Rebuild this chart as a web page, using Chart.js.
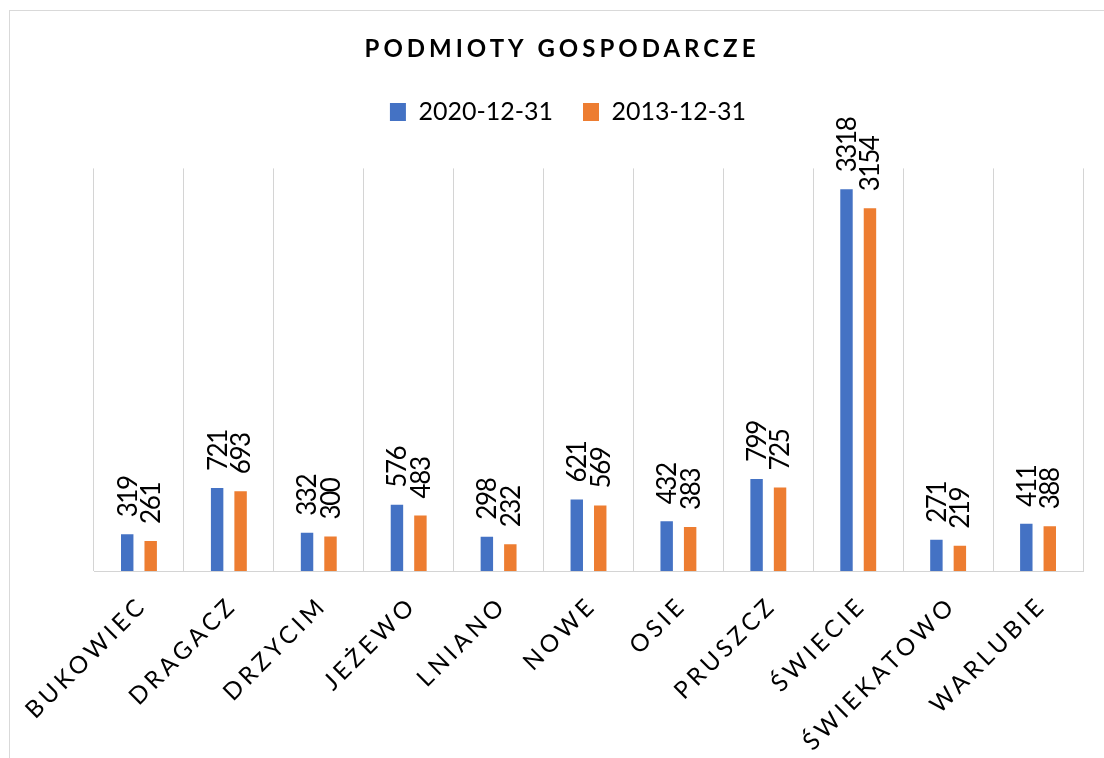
<!DOCTYPE html>
<html>
<head>
<meta charset="utf-8">
<script src="https://cdn.jsdelivr.net/npm/chart.js@4/dist/chart.umd.min.js"></script>
<style>
  html, body { margin: 0; padding: 0; background: #fff; overflow: hidden; }
  #frame { position: absolute; left: 9px; top: 10px; width: 1200px; height: 800px; border: 1px solid #d9d9d9; }
  #wrap { position: absolute; left: 10px; top: 11px; width: 1104px; height: 747px; }
</style>
</head>
<body>
<div id="frame"></div>
<div id="wrap"><canvas id="c" width="1104" height="747"></canvas></div>
<script>
const categories = ['BUKOWIEC', 'DRAGACZ', 'DRZYCIM', 'JEŻEWO', 'LNIANO', 'NOWE', 'OSIE', 'PRUSZCZ', 'ŚWIECIE', 'ŚWIEKATOWO', 'WARLUBIE'];
const values2020 = [319, 721, 332, 576, 298, 621, 432, 799, 3318, 271, 411];
const values2013 = [261, 693, 300, 483, 232, 569, 383, 725, 3154, 219, 388];
const seriesNames = ['2020-12-31', '2013-12-31'];
const yMin = 0;
const yMax = 3500;

const FONT = 'Lato, "Open Sans", sans-serif';

const spacingPlugin = {
  id: 'spacing',
  beforeLayout(chart) {
    const lg = chart.legend;
    if (lg && !lg._patchedFit) {
      const f = lg.fit;
      lg.fit = function () { f.call(this); this.height += 34; };
      lg._patchedFit = true;
    }
  },
  afterLayout(chart) {
    const lg = chart.legend;
    if (lg) { lg.left += 6; lg.right += 6; }
  },
  beforeDraw(chart) {
    const ctx = chart.ctx;
    const tb = chart.titleBlock;
    if (tb && !tb._patchedDraw) {
      const d = tb.draw;
      tb.draw = function (...a) { ctx.save(); ctx.letterSpacing = '4px'; d.apply(this, a); ctx.restore(); };
      tb._patchedDraw = true;
    }
    const xs = chart.scales.x;
    if (xs && !xs._patchedDraw) {
      const dl = xs.drawLabels;
      xs.drawLabels = function (...a) { ctx.save(); ctx.letterSpacing = '4px'; dl.apply(this, a); ctx.restore(); };
      xs._patchedDraw = true;
    }
  },
  afterDatasetsDraw(chart) {
    const ctx = chart.ctx;
    chart.data.datasets.forEach((ds, i) => {
      const meta = chart.getDatasetMeta(i);
      meta.data.forEach((bar, j) => {
        ctx.save();
        ctx.font = '26px ' + FONT;
        ctx.fillStyle = '#000';
        ctx.letterSpacing = '-1.4px';
        ctx.translate(bar.x + 1, bar.y - 17);
        ctx.rotate(-Math.PI / 2);
        ctx.textAlign = 'left';
        ctx.textBaseline = 'middle';
        ctx.fillText(String(ds.data[j]), 0, 0);
        ctx.restore();
      });
    });
  }
};

new Chart(document.getElementById('c'), {
  type: 'bar',
  data: {
    labels: categories,
    datasets: [
      { label: seriesNames[0], data: values2020, backgroundColor: '#4472C4', borderWidth: 0 },
      { label: seriesNames[1], data: values2013, backgroundColor: '#ED7D31', borderWidth: 0 }
    ]
  },
  options: {
    responsive: false,
    animation: false,
    datasets: { bar: { categoryPercentage: 0.522, barPercentage: 0.53 } },
    layout: { padding: { left: 0, right: 0, top: 0, bottom: 0 } },
    plugins: {
      title: {
        display: true,
        text: 'PODMIOTY GOSPODARCZE',
        color: '#000',
        font: { family: FONT, size: 24, weight: 'bold', lineHeight: 1.2 },
        padding: { top: 23.6, bottom: 6 }
      },
      legend: {
        display: true,
        position: 'top',
        labels: {
          color: '#000',
          font: { family: FONT, size: 25 },
          boxWidth: 16,
          boxHeight: 18,
          padding: 30
        }
      },
      tooltip: { enabled: false }
    },
    scales: {
      x: {
        offset: true,
        grid: { display: true, offset: true, color: '#d4d4d4', lineWidth: 1, drawTicks: false },
        border: { display: true, color: '#d4d4d4', width: 1 },
        ticks: {
          autoSkip: false,
          maxRotation: 45,
          minRotation: 45,
          padding: 20,
          labelOffset: 4,
          color: '#000',
          font: { family: FONT, size: 24 }
        },
        afterFit(s) { s.paddingLeft = 84; s.paddingRight = 31; s.height = 187; }
      },
      y: {
        display: false,
        min: yMin,
        max: yMax
      }
    }
  },
  plugins: [spacingPlugin]
});
</script>
</body>
</html>
